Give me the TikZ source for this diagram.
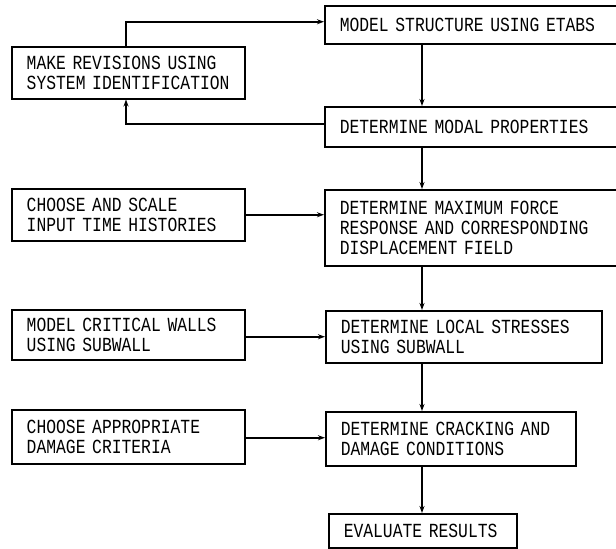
\documentclass[tikz,border=0pt]{standalone}
\usepackage{fontspec}
\newfontfamily\plotfont[FakeStretch=0.817]{Liberation Mono}
\usetikzlibrary{arrows.meta}
\tikzset{
  flowbox/.style={draw, line width=1.5pt, anchor=north west, align=left,
    inner xsep=15pt, inner ysep=0pt,
    font=\plotfont\fontsize{20}{20}\selectfont},
  conn/.style={line width=1.5pt},
  arr/.style={conn, -{Stealth[length=7pt,width=5pt]}}
}
\begin{document}
\begin{tikzpicture}[x=1pt,y=-1pt]
\useasboundingbox (0,0) rectangle (616,549);
\clip (0,0) rectangle (616,549);
% left column
\node[flowbox, minimum width=233pt, minimum height=52pt, text width=203pt] (rev) at (11,46) {MAKE REVISIONS USING\\SYSTEM IDENTIFICATION};
\node[flowbox, minimum width=233pt, minimum height=52pt, text width=203pt] (cas) at (11,188) {CHOOSE AND SCALE\\INPUT TIME HISTORIES};
\node[flowbox, minimum width=233pt, minimum height=50pt, text width=203pt] (mcw) at (11,309) {MODEL CRITICAL WALLS\\USING SUBWALL};
\node[flowbox, minimum width=233pt, minimum height=54pt, text width=203pt] (cad) at (11,409) {CHOOSE APPROPRIATE\\DAMAGE CRITERIA};
% right column
\node[flowbox, minimum width=330pt, minimum height=38pt, text width=300pt] (mse) at (324,5) {MODEL STRUCTURE USING ETABS};
\node[flowbox, minimum width=330pt, minimum height=40pt, text width=300pt] (dmp) at (324,106) {DETERMINE MODAL PROPERTIES};
\node[flowbox, minimum width=330pt, minimum height=76pt, text width=300pt] (dmf) at (324,189) {DETERMINE MAXIMUM FORCE\\RESPONSE AND CORRESPONDING\\DISPLACEMENT FIELD};
\node[flowbox, minimum width=276pt, minimum height=52pt, text width=246pt] (dls) at (325,310) {DETERMINE LOCAL STRESSES\\USING SUBWALL};
\node[flowbox, minimum width=250pt, minimum height=54pt, text width=220pt] (dcd) at (325,411) {DETERMINE CRACKING AND\\DAMAGE CONDITIONS};
\node[flowbox, minimum width=188pt, minimum height=34pt, text width=158pt] (evr) at (328,513) {EVALUATE RESULTS};
\coordinate (vx) at (422,0);
\coordinate (lx) at (126,0);
% vertical chain
\draw[arr] (mse.south -| vx) -- (dmp.north -| vx);
\draw[arr] (dmp.south -| vx) -- (dmf.north -| vx);
\draw[arr] (dmf.south -| vx) -- (dls.north -| vx);
\draw[arr] (dls.south -| vx) -- (dcd.north -| vx);
\draw[arr] (dcd.south -| vx) -- (evr.north -| vx);
% loop
\draw[arr] (rev.north -| lx) |- ([yshift=3pt]mse.west);
\draw[arr] ([yshift=3pt]dmp.west) -| (rev.south -| lx);
% side inputs
\draw[arr] (cas.east) -- (cas.east -| dmf.west);
\draw[arr] ([yshift=-2pt]mcw.east) -- ([yshift=-2pt]mcw.east -| dls.west);
\draw[arr] ([yshift=-1pt]cad.east) -- ([yshift=-1pt]cad.east -| dcd.west);
\end{tikzpicture}
\end{document}
